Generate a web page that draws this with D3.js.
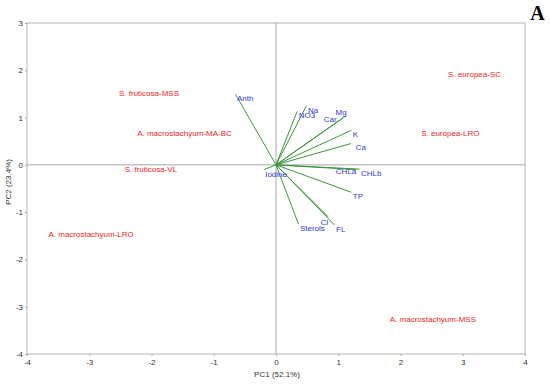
<!DOCTYPE html>
<html>
<head>
<meta charset="utf-8">
<script src="https://cdn.jsdelivr.net/npm/d3@7"></script>
<style>
	body { margin: 0; background: #fff; }
	text { font-family: "Liberation Sans", Arial, sans-serif; }
	text.panel { font-family: "Liberation Serif", "Times New Roman", serif; }
	.tick line { stroke: #a8a8a8; }
	.tick text { fill: #333; font-size: 8px; }
</style>
</head>
<body>
<script>
//sample scores (PC1, PC2)
var sampleNames = ["S. fruticosa-MSS", "A. macrostachyum-MA-BC", "S. fruticosa-VL",
	"A. macrostachyum-LRO", "A. macrostachyum-MSS", "S. europea-SC", "S. europea-LRO"];
var sampleX = [-2.04, -1.47, -2.01, -2.97, 2.52, 3.19, 2.80];
var sampleY = [1.52, 0.68, -0.09, -1.47, -3.26, 1.91, 0.66];

//variable loadings (PC1, PC2)
var varNames = ["Anth", "Na", "NO3", "Mg", "Car", "K", "Ca", "CHLa", "CHLb", "TP", "Cl", "FL", "Sterols", "Iodine"];
var loadX = [-0.65, 0.49, 0.34, 1.12, 1.07, 1.21, 1.20, 1.29, 1.34, 1.21, 0.84, 0.94, 0.36, -0.19];
var loadY = [1.49, 1.25, 1.13, 1.03, 0.99, 0.73, 0.45, -0.10, -0.09, -0.58, -1.10, -1.27, -1.25, -0.10];

//axis ticks
var xTicks = [-4, -3, -2, -1, 0, 1, 2, 3, 4];
var yTicks = [-4, -3, -2, -1, 0, 1, 2, 3];

//label placement for the loading names (anchor, dx, dy in px)
var labelPlace = {
	"Mg": ["end", 1, -4], "Car": ["end", -6, 1], "Cl": ["end", 0, 5], "CHLa": ["end", 0, 2],
	"Ca": ["start", 5, 4], "Iodine": ["start", 1, 5]
};

var width = 550, height = 384;

var svg = d3.select("body").append("svg")
	.attr("width", width)
	.attr("height", height);

var x = d3.scaleLinear().domain([-4, 4]).range([27, 525]);
var y = d3.scaleLinear().domain([-4, 3]).range([354, 23]);

//plain hyphen minus like the original
var fmt = function(d){ return String(d); };

//axes
var xAxis = svg.append("g")
	.attr("transform", "translate(0," + y(-4) + ")")
	.call(d3.axisBottom(x).tickValues(xTicks).tickSize(2).tickPadding(3).tickFormat(fmt));
var yAxis = svg.append("g")
	.attr("transform", "translate(" + x(-4) + ",0)")
	.call(d3.axisLeft(y).tickValues(yTicks).tickSize(2).tickPadding(2).tickFormat(fmt));
svg.selectAll(".domain").remove();
svg.selectAll(".tick text").attr("font-family", null);

//frame
svg.append("rect")
	.attr("x", x(-4))
	.attr("y", y(3))
	.attr("width", x(4) - x(-4))
	.attr("height", y(-4) - y(3))
	.attr("fill", "none")
	.attr("stroke", "#b4b4b4")
	.attr("stroke-width", 1);

//zero lines
svg.append("line")
	.attr("x1", x(-4)).attr("x2", x(4))
	.attr("y1", y(0)).attr("y2", y(0))
	.attr("stroke", "#a8a8a8");
svg.append("line")
	.attr("x1", x(0)).attr("x2", x(0))
	.attr("y1", y(3)).attr("y2", y(-4))
	.attr("stroke", "#a8a8a8");

//loading vectors
svg.selectAll(".vec")
	.data(varNames)
	.enter()
	.append("line")
	.attr("class", "vec")
	.attr("x1", x(0))
	.attr("y1", y(0))
	.attr("x2", function(d, i){ return x(loadX[i]); })
	.attr("y2", function(d, i){ return y(loadY[i]); })
	.attr("stroke", "#3c963c")
	.attr("stroke-width", 1);

//loading labels
svg.selectAll(".vlab")
	.data(varNames)
	.enter()
	.append("text")
	.attr("class", "vlab")
	.attr("x", function(d, i){ return x(loadX[i]) + (labelPlace[d] ? labelPlace[d][1] : 1.5); })
	.attr("y", function(d, i){ return y(loadY[i]) + (labelPlace[d] ? labelPlace[d][2] : 4); })
	.attr("dy", "0.35em")
	.attr("text-anchor", function(d){ return labelPlace[d] ? labelPlace[d][0] : "start"; })
	.attr("font-size", "8px")
	.attr("fill", "#3535e0")
	.text(function(d){ return d; });

//sample labels
svg.selectAll(".slab")
	.data(sampleNames)
	.enter()
	.append("text")
	.attr("class", "slab")
	.attr("x", function(d, i){ return x(sampleX[i]); })
	.attr("y", function(d, i){ return y(sampleY[i]); })
	.attr("dy", "0.35em")
	.attr("text-anchor", "middle")
	.attr("font-size", "8px")
	.attr("fill", "#ee2424")
	.text(function(d){ return d; });

//axis titles
svg.append("text")
	.attr("x", 277)
	.attr("y", 377)
	.attr("text-anchor", "middle")
	.attr("font-size", "8px")
	.attr("fill", "#333")
	.text("PC1 (52.1%)");
svg.append("text")
	.attr("transform", "translate(11,182) rotate(-90)")
	.attr("text-anchor", "middle")
	.attr("font-size", "8px")
	.attr("fill", "#333")
	.text("PC2 (23.4%)");

//panel letter
svg.append("text")
	.attr("class", "panel")
	.attr("x", 537.5)
	.attr("y", 20)
	.attr("text-anchor", "middle")
	.attr("font-weight", "bold")
	.attr("font-size", "20px")
	.attr("fill", "#000")
	.text("A");
</script>
</body>
</html>
